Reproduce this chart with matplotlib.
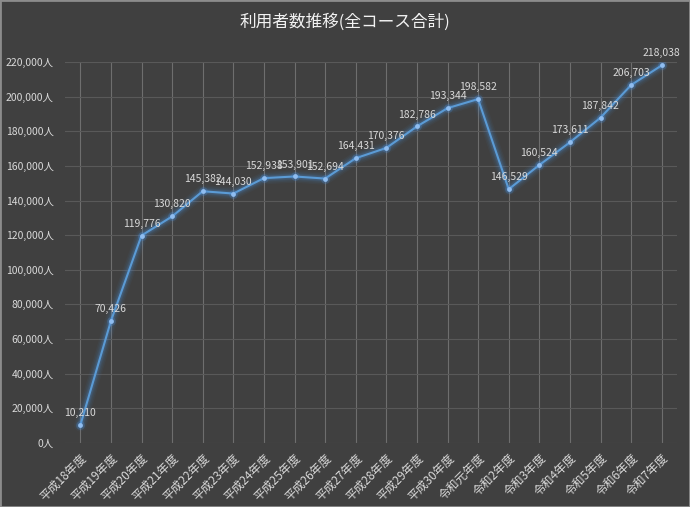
import matplotlib
matplotlib.use("Agg")
import matplotlib.pyplot as plt
from matplotlib.ticker import FuncFormatter, MultipleLocator

plt.rcParams["font.family"] = ["Noto Sans CJK JP", "DejaVu Sans"]

# 年度ごとの利用者数
years = [
    "平成18年度", "平成19年度", "平成20年度", "平成21年度", "平成22年度",
    "平成23年度", "平成24年度", "平成25年度", "平成26年度", "平成27年度",
    "平成28年度", "平成29年度", "平成30年度", "令和元年度", "令和2年度",
    "令和3年度", "令和4年度", "令和5年度", "令和6年度", "令和7年度",
]
users = [
    10210, 70426, 119776, 130820, 145382,
    144030, 152938, 153901, 152694, 164431,
    170376, 182786, 193344, 198582, 146529,
    160524, 173611, 187842, 206703, 218038,
]
title = "利用者数推移(全コース合計)"

BG = "#404040"
TXT = "#d9d9d9"
LINE = "#5b9bd5"

fig = plt.figure(figsize=(6.9, 5.07), dpi=100, facecolor=BG)
fig.patches.append(plt.Rectangle((0, 0), 1, 1, transform=fig.transFigure,
                                 fill=False, edgecolor="#8c8c8c", linewidth=2))
ax = fig.add_axes([65 / 690, 1 - 443 / 507, 612 / 690, 381 / 507])
ax.set_facecolor(BG)

x = list(range(len(years)))

# 線のぼかし(グロー)
for lw, a in [(9, 0.05), (7, 0.07), (5, 0.1), (3.5, 0.16)]:
    ax.plot(x, users, color="#4a8fdc", linewidth=lw, alpha=a,
            solid_capstyle="round", solid_joinstyle="round", zorder=2)
ax.plot(x, users, color=LINE, linewidth=1.5, zorder=3)
ax.scatter(x, users, s=40, color="#4a8fdc", alpha=0.25, zorder=3, linewidths=0)
ax.scatter(x, users, s=12, color="#8fbdf0", zorder=4, linewidths=0)

for xi, v in zip(x, users):
    ax.annotate(f"{v:,}", (xi, v), xytext=(0, 5), textcoords="offset points",
                ha="center", va="bottom", fontsize=7.5, color=TXT, zorder=5)

ax.set_xlim(-0.5, len(years) - 0.5)
ax.set_ylim(0, 220000)
ax.yaxis.set_major_locator(MultipleLocator(20000))
ax.yaxis.set_major_formatter(FuncFormatter(lambda v, p: f"{int(v):,}人"))
ax.set_xticks(x)
ax.set_xticklabels(years, rotation=45, ha="right", rotation_mode="anchor")

ax.grid(axis="y", color="#595959", linewidth=0.8)
ax.grid(axis="x", color="#6e6e6e", linewidth=0.8)
ax.set_axisbelow(True)
for s in ax.spines.values():
    s.set_visible(False)
ax.tick_params(axis="both", length=0, colors=TXT)
ax.tick_params(axis="y", labelsize=7.5, pad=8)
ax.tick_params(axis="x", labelsize=8.5, pad=6)

fig.text(0.5, 1 - 22 / 507, title, ha="center", va="center",
         fontsize=12, color="#f2f2f2")

fig.savefig("out.png", dpi=100, facecolor=BG)
